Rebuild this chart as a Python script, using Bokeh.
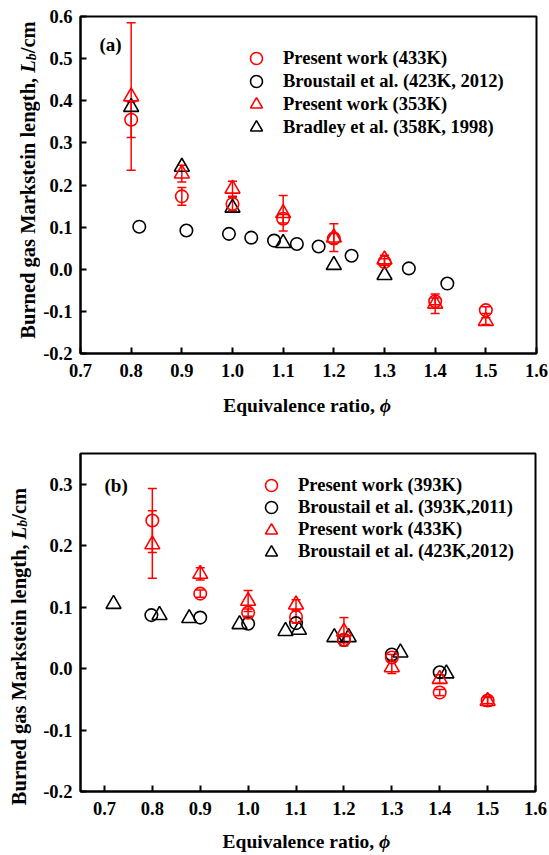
import numpy as np
from bokeh.plotting import figure
from bokeh.models import (ColumnDataSource, Whisker, TeeHead, Label, Legend,
                          LegendItem, FixedTicker, NumeralTickFormatter, Range1d)
from bokeh.core.properties import value
from bokeh.layouts import column, row
from bokeh.embed import file_html
from bokeh.resources import INLINE

# ---------------- data: panel (a) ----------------
phi_a_present = [0.8, 0.9, 1.0, 1.1, 1.2, 1.3, 1.4, 1.5]
lb_a_433 = [0.355, 0.173, 0.155, 0.120, 0.073, 0.017, -0.076, -0.097]
err_a_433 = [0.042, 0.021, 0.016, 0.010, 0.012, 0.008, 0.008, 0.008]
lb_a_353 = [0.410, 0.227, 0.191, 0.133, 0.075, 0.023, -0.082, -0.123]
err_a_353 = [0.175, 0.020, 0.018, 0.042, 0.033, 0.010, 0.023, 0.008]

phi_a_broustail = [0.816, 0.909, 0.993, 1.037, 1.082, 1.127, 1.170, 1.235, 1.348, 1.424]
lb_a_broustail = [0.101, 0.092, 0.084, 0.075, 0.068, 0.060, 0.054, 0.032, 0.002, -0.034]

phi_a_bradley = [0.8, 0.9, 1.0, 1.1, 1.2, 1.3]
lb_a_bradley = [0.385, 0.243, 0.146, 0.062, 0.010, -0.014]

# ---------------- data: panel (b) ----------------
phi_b_present = [0.8, 0.9, 1.0, 1.1, 1.2, 1.3, 1.4, 1.5]
lb_b_393 = [0.241, 0.122, 0.091, 0.084, 0.047, 0.018, -0.039, -0.052]
err_b_393 = [0.052, 0.006, 0.006, 0.010, 0.005, 0.005, 0.005, 0.005]
lb_b_433 = [0.202, 0.154, 0.110, 0.104, 0.060, 0.002, -0.017, -0.053]
err_b_433 = [0.055, 0.010, 0.017, 0.008, 0.023, 0.010, 0.007, 0.008]

phi_b_br2011 = [0.798, 0.900, 1.000, 1.100, 1.200, 1.300, 1.400]
lb_b_br2011 = [0.087, 0.083, 0.073, 0.074, 0.047, 0.023, -0.006]

phi_b_br2012 = [0.719, 0.815, 0.877, 0.982, 1.078, 1.106, 1.180, 1.210, 1.318, 1.414]
lb_b_br2012 = [0.105, 0.087, 0.082, 0.072, 0.061, 0.063, 0.051, 0.051, 0.026, -0.008]

x_ticks = [0.7, 0.8, 0.9, 1.0, 1.1, 1.2, 1.3, 1.4, 1.5, 1.6]
y_ticks_a = [-0.2, -0.1, 0.0, 0.1, 0.2, 0.3, 0.4, 0.5, 0.6]
y_ticks_b = [-0.2, -0.1, 0.0, 0.1, 0.2, 0.3]

legend_a = ["Present work (433K)", "Broustail et al. (423K, 2012)",
            "Present work (353K)", "Bradley et al. (358K, 1998)"]
legend_b = ["Present work (393K)", "Broustail et al. (393K,2011)",
            "Present work (433K)", "Broustail et al. (423K,2012)"]

SERIF = "Liberation Serif"
RED = "#ff0000"
BLACK = "#000000"
TITLE_W = 40          # width of the strip holding the rotated y title


def make_figure(height, top, bottom, right, xr, yr, yticks):
    p = figure(width=549 - TITLE_W, height=height, output_backend="svg",
               toolbar_location=None, x_range=Range1d(*xr), y_range=Range1d(*yr),
               min_border_left=79 - TITLE_W, min_border_right=right,
               min_border_top=top, min_border_bottom=bottom)
    p.background_fill_color = "white"
    p.border_fill_color = "white"
    p.outline_line_color = BLACK
    p.outline_line_width = 2
    p.outline_line_alpha = 1
    p.xgrid.visible = False
    p.ygrid.visible = False
    p.xaxis.ticker = FixedTicker(ticks=x_ticks)
    p.yaxis.ticker = FixedTicker(ticks=yticks)
    for ax in (p.xaxis[0], p.yaxis[0]):
        ax.formatter = NumeralTickFormatter(format="0.0")
        ax.major_label_text_font = SERIF
        ax.major_label_text_font_style = "bold"
        ax.major_label_text_font_size = "18.5px"
        ax.major_label_text_color = BLACK
        ax.major_tick_in = 6
        ax.major_tick_out = 0
        ax.major_tick_line_width = 2
        ax.minor_tick_line_color = None
        ax.axis_line_width = 2
        ax.axis_label = None
    p.xaxis.major_label_standoff = 10
    p.yaxis.major_label_standoff = 8
    return p


def text_strip(w, h):
    """Blank figure whose data units are pixels; used to hold axis titles."""
    s = figure(width=w, height=h, output_backend="svg", toolbar_location=None,
               x_range=Range1d(0, w), y_range=Range1d(0, h), min_border=0,
               x_axis_type=None, y_axis_type=None)
    s.outline_line_color = None
    s.xgrid.visible = False
    s.ygrid.visible = False
    s.background_fill_color = "white"
    s.border_fill_color = "white"
    return s


def add_present(p, phi, lb, err, marker, size):
    src = ColumnDataSource(dict(
        x=phi, y=lb,
        upper=[v + e for v, e in zip(lb, err)],
        lower=[v - e for v, e in zip(lb, err)]))
    r = p.scatter("x", "y", source=src, marker=marker, size=size,
                  fill_color=None, line_color=RED, line_width=1.6)
    head = dict(size=9, line_color=RED, line_width=1.5)
    p.add_layout(Whisker(source=src, base="x", upper="upper", lower="lower",
                         line_color=RED, line_width=1.5,
                         upper_head=TeeHead(**head), lower_head=TeeHead(**head)))
    return r


def add_ref(p, phi, lb, marker, size):
    return p.scatter(phi, lb, marker=marker, size=size, fill_color=None,
                     line_color=BLACK, line_width=1.6)


def add_legend(p, labels, renderers, vx, vy_top, pitch):
    # one single-row legend per entry so rows can sit closer than the swatch box
    for i, (t, r) in enumerate(zip(labels, renderers)):
        leg = Legend(items=[LegendItem(label=value(t), renderers=[r])],
                     location=(vx, vy_top - 30 - i * pitch),
                     glyph_width=30, glyph_height=30,
                     label_standoff=12, padding=0, margin=0,
                     border_line_color=None, background_fill_alpha=0,
                     label_text_font=SERIF, label_text_font_style="bold",
                     label_text_font_size="18.5px", label_text_color=BLACK)
        p.add_layout(leg)


def y_title_strip(h, base_x, center_y):
    s = text_strip(TITLE_W, h)
    fs = 20.5
    common = dict(text_font=SERIF, text_color=BLACK, text_baseline="alphabetic",
                  angle=np.pi / 2)
    w_main, w_L, w_b = 266.0, 0.611 * fs, 0.5 * 14
    total = w_main + w_L + w_b + 1.555 * fs
    join = center_y - total / 2 + w_main
    s.add_layout(Label(x=base_x, y=join, text="Burned gas Markstein length, ",
                       text_align="right", text_font_size=f"{fs}px",
                       text_font_style="bold", **common))
    s.add_layout(Label(x=base_x, y=join, text="L", text_align="left",
                       text_font_size=f"{fs}px", text_font_style="bold italic", **common))
    s.add_layout(Label(x=base_x + 4, y=join + w_L, text="b", text_align="left",
                       text_font_size="14px", text_font_style="bold italic", **common))
    s.add_layout(Label(x=base_x, y=join + w_L + w_b, text="/cm", text_align="left",
                       text_font_size=f"{fs}px", text_font_style="bold", **common))
    return s


def x_title_strip(h, join_x, base_y):
    s = text_strip(549 - TITLE_W, h)
    common = dict(text_font=SERIF, text_color=BLACK, text_baseline="alphabetic",
                  text_font_size="19.5px")
    s.add_layout(Label(x=join_x, y=base_y, text="Equivalence ratio, ", text_align="right",
                       text_font_style="bold", **common))
    s.add_layout(Label(x=join_x, y=base_y, text="\u03d5", text_align="left",
                       text_font_style="bold italic", **common))
    return s


# ---------------- panel (a) ----------------
pa = make_figure(395, 16, 42, 13, (0.7, 1.6), (-0.2, 0.6), y_ticks_a)
r_a_br = add_ref(pa, phi_a_broustail, lb_a_broustail, "circle", 12.5)
r_a_bd = add_ref(pa, phi_a_bradley, lb_a_bradley, "triangle", 15)
r_a_433 = add_present(pa, phi_a_present, lb_a_433, err_a_433, "circle", 12.5)
r_a_353 = add_present(pa, phi_a_present, lb_a_353, err_a_353, "triangle", 15)
add_legend(pa, legend_a, [r_a_433, r_a_br, r_a_353, r_a_bd], 161, 353 - 43, 23)
pa.add_layout(Label(x=19, y=353 - 44, x_units="screen", y_units="screen", text="(a)",
                    text_font=SERIF, text_font_style="bold", text_font_size="19px",
                    text_baseline="middle", text_color=BLACK))
ya = y_title_strip(430, 27.1, 430 - 179.5)
xa = x_title_strip(35, 374 - TITLE_W, 430 - 405)

# ---------------- panel (b) ----------------
pb = make_figure(395, 23, 34, 14, (0.65, 1.6), (-0.2, 0.35), y_ticks_b)
r_b_11 = add_ref(pb, phi_b_br2011, lb_b_br2011, "circle", 12.5)
r_b_12 = add_ref(pb, phi_b_br2012, lb_b_br2012, "triangle", 15)
r_b_393 = add_present(pb, phi_b_present, lb_b_393, err_b_393, "circle", 12.5)
r_b_433 = add_present(pb, phi_b_present, lb_b_433, err_b_433, "triangle", 15)
add_legend(pb, legend_b, [r_b_393, r_b_11, r_b_433, r_b_12], 176, 791 - 470, 22.3)
pb.add_layout(Label(x=24, y=791 - 485, x_units="screen", y_units="screen",
                    text="(b)", text_font=SERIF, text_font_style="bold",
                    text_font_size="19px", text_baseline="middle", text_color=BLACK))
yb = y_title_strip(425, 18.1, 855 - 646)
xb = x_title_strip(30, 374 - TITLE_W, 855 - 841)

layout = column(row(ya, column(pa, xa, spacing=0), spacing=0),
                row(yb, column(pb, xb, spacing=0), spacing=0),
                spacing=0)
open("out.html", "w").write(file_html(layout, INLINE))
